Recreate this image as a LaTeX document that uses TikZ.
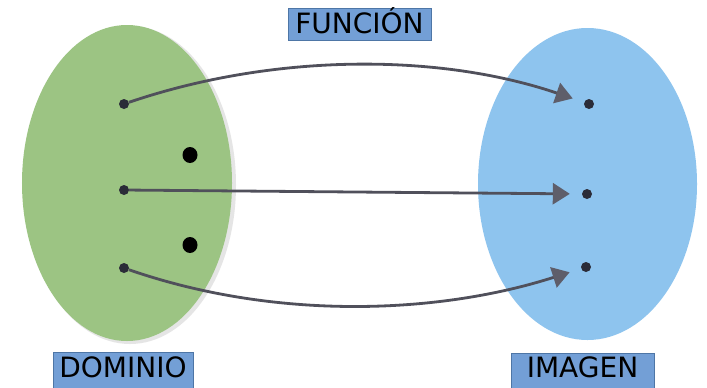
\documentclass[tikz,border=0pt]{standalone}
\usepackage{fontspec}
\setmainfont{DejaVu Sans}
\usetikzlibrary{arrows.meta,shapes.geometric}
\definecolor{domgreen}{HTML}{9CC483}
\definecolor{imgblue}{HTML}{8EC4EE}
\definecolor{boxfill}{HTML}{739FD6}
\definecolor{boxline}{HTML}{4E76A6}
\definecolor{arrowgray}{HTML}{50505B}
\definecolor{headgray}{HTML}{5E5E6A}
\definecolor{dotdark}{HTML}{2B2C38}
\begin{document}
\begin{tikzpicture}[x=1bp,y=-1bp,
  setshape/.style={ellipse,inner sep=0pt,draw=none},
  smalldot/.style={circle,fill=dotdark,inner sep=0pt,minimum size=10bp},
  bigdot/.style={ellipse,fill=black,inner sep=0pt,minimum width=15bp,minimum height=16bp},
  conn/.style={draw=arrowgray,line width=2.8bp,shorten >=12bp,
    -{Triangle[length=17bp,width=21bp,color=headgray,fill=headgray]}},
  labelbox/.style={draw=boxline,fill=boxfill,line width=0.8bp,anchor=base,
    font=\fontsize{28bp}{30bp}\selectfont,inner xsep=0pt}]
\clip (0,0) rectangle (707,387);
\fill[white] (0,0) rectangle (707,387);
% shadow and sets
\node[setshape,fill=black!40,opacity=0.25,minimum width=212bp,minimum height=318bp] (domshadow) at (130,185) {};
\node[setshape,fill=domgreen,minimum width=210bp,minimum height=316bp] (dom) at (127,183) {};
\node[setshape,fill=imgblue,minimum width=219bp,minimum height=312bp] (img) at (587.5,184) {};
% points
\node[smalldot] (l1) at (124,104) {};
\node[smalldot] (l2) at (124,190) {};
\node[smalldot] (l3) at (124,268) {};
\node[smalldot] (r1) at (589,104) {};
\node[smalldot] (r2) at (587,194) {};
\node[smalldot] (r3) at (586,267) {};
\node[bigdot] (b1) at (190,155) {};
\node[bigdot] (b2) at (190,245) {};
% connectors
\draw[conn] (l1) .. controls +(150,-51) and +(-150,-51) .. (r1);
\draw[conn] (l2) -- (r2);
\draw[conn] (l3) .. controls +(150,52) and +(-150,48) .. (r3);
% labels
\node[labelbox,minimum width=143bp,text height=20.8bp,text depth=2.2bp,inner ysep=4.5bp] (funcion) at (359.5,33.3) {FUNCIÓN};
\node[labelbox,minimum width=140bp,text height=20bp,text depth=10bp,inner ysep=5.5bp] (dominio) at (123,377.5) {DOMINIO};
\node[labelbox,minimum width=143bp,text height=20bp,text depth=10bp,inner ysep=4bp] (imagen) at (582.5,377.3) {IMAGEN};
\end{tikzpicture}
\end{document}
